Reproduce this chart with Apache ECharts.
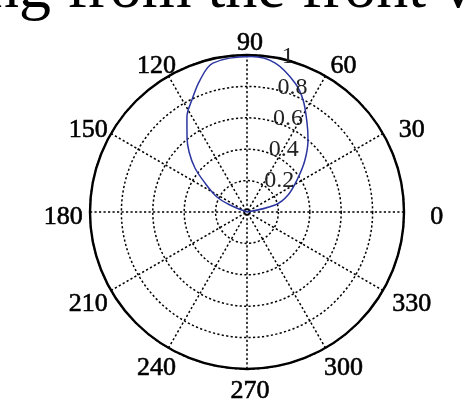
<!DOCTYPE html>
<html>
<head>
<meta charset="utf-8">
<script src="https://cdn.jsdelivr.net/npm/echarts@6/dist/echarts.min.js"></script>
<style>
  html, body { margin: 0; padding: 0; background: #fff; }
  #chart { width: 473px; height: 406px; }
</style>
</head>
<body>
<div id="chart"></div>
<script>
// pattern: angle (deg) and normalised magnitude
const angles = [0, 14, 22.5, 33.7, 41.9, 49.7, 56, 63.4, 69.6, 79.4, 88.5, 102.9, 109.6, 116.2, 122.3, 128.7, 134, 139.8, 145.4, 153.4, 157.6, 180]
const radii  = [0, 0.184, 0.283, 0.39, 0.496, 0.601, 0.684, 0.798, 0.877, 0.966, 0.99, 0.973, 0.892, 0.795, 0.716, 0.611, 0.531, 0.434, 0.325, 0.214, 0.117, 0]

const angleTicks = [0, 30, 60, 90, 120, 150, 180, 210, 240, 270, 300, 330]
const angleLabels = ['0', '30', '60', '90', '120', '150', '180', '210', '240', '270', '300', '330']
const radialTicks = [0.2, 0.4, 0.6, 0.8, 1]
const radialLabels = ['0.2', '0.4', '0.6', '0.8', '1']
const radialLabelAngle = 82

const SERIF = '"Liberation Serif", "Times New Roman", serif'
const dotted = { color: '#000', width: 1.5, type: [2.2, 2.3] }

const chart = echarts.init(document.getElementById('chart'))

chart.setOption({
  animation: false,
  backgroundColor: '#fff',
  graphic: [{
    type: 'text',
    left: -13,
    top: -42,
    style: {
      text: 'ng from the front view',
      font: '64px ' + SERIF,
      fill: '#000'
    }
  }],
  polar: { center: [247, 212], radius: 157 },
  angleAxis: {
    type: 'value',
    min: 0,
    max: 360,
    interval: 30,
    startAngle: 0,
    clockwise: false,
    axisLine: { lineStyle: { color: '#000', width: 2.4 } },
    axisTick: { show: false },
    axisLabel: { show: false },
    splitLine: { show: true, lineStyle: dotted }
  },
  radiusAxis: {
    type: 'value',
    min: 0,
    max: 1,
    interval: 0.2,
    axisLine: { show: false },
    axisTick: { show: false },
    axisLabel: { show: false },
    splitLine: { show: true, lineStyle: dotted }
  },
  series: [
    {
      type: 'line',
      coordinateSystem: 'polar',
      data: angles.map((a, i) => [radii[i], a]),
      showSymbol: false,
      smooth: 0.35,
      lineStyle: { color: '#2b35a0', width: 1.5 },
      z: 5
    },
    {
      // angle labels, set a little outside the rim
      type: 'custom',
      coordinateSystem: 'polar',
      data: angleTicks.map(a => [1, a]),
      renderItem: (params, api) => {
        const c = api.coord([0, 0])
        const p = api.coord([api.value(0), api.value(1)])
        return {
          type: 'text',
          x: c[0] + 3 + (p[0] - c[0]) * 1.19,
          y: c[1] + 5 + (p[1] - c[1]) * 1.11,
          style: {
            text: angleLabels[params.dataIndex],
            font: '26px ' + SERIF,
            fill: '#000',
            stroke: '#000',
            lineWidth: 0.6,
            align: 'center',
            verticalAlign: 'middle'
          }
        }
      },
      z: 6
    },
    {
      // radial labels along the 82 degree line
      type: 'custom',
      coordinateSystem: 'polar',
      data: radialTicks.map(r => [r, radialLabelAngle]),
      renderItem: (params, api) => {
        const p = api.coord([api.value(0), api.value(1)])
        return {
          type: 'text',
          x: p[0] + 13,
          y: p[1],
          style: {
            text: radialLabels[params.dataIndex],
            font: '24px ' + SERIF,
            fill: '#222',
            align: 'left',
            verticalAlign: 'middle'
          }
        }
      },
      z: 6
    }
  ]
})
</script>
</body>
</html>
